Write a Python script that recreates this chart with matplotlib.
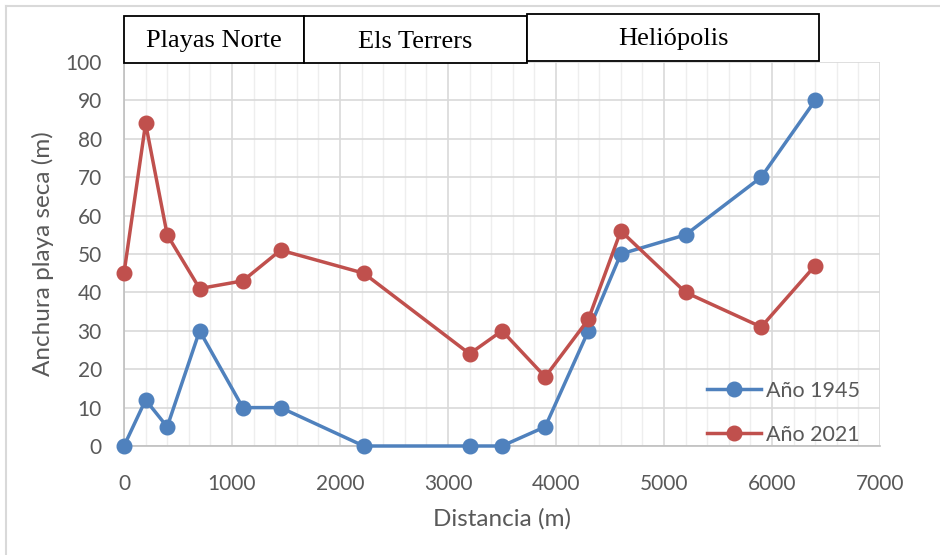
import matplotlib
matplotlib.use("Agg")
import matplotlib.pyplot as plt
from matplotlib.patches import Rectangle
from matplotlib.lines import Line2D
from matplotlib.ticker import MultipleLocator

# Data
distancia = [0, 200, 400, 700, 1100, 1450, 2220, 3200, 3500, 3900, 4300, 4600, 5200, 5900, 6400]
anio_1945 = [0, 12, 5, 30, 10, 10, 0, 0, 0, 5, 30, 50, 55, 70, 90]
anio_2021 = [45, 84, 55, 41, 43, 51, 45, 24, 30, 18, 33, 56, 40, 31, 47]
series_names = ["Año 1945", "Año 2021"]
zonas = ["Playas Norte", "Els Terrers", "Heliópolis"]

W, H = 940, 555
fig = plt.figure(figsize=(W / 100, H / 100), dpi=100)
fig.patch.set_facecolor("white")

def fx(px):
    return px / W

def fy(py):
    return 1 - py / H

# chart area border (left and top visible)
fig.add_artist(Line2D([fx(6), fx(6)], [fy(6), fy(560)], color="#D9D9D9", lw=1.5, transform=fig.transFigure))
fig.add_artist(Line2D([fx(6), fx(945)], [fy(6), fy(6)], color="#D9D9D9", lw=1.5, transform=fig.transFigure))

ax = fig.add_axes([fx(124), fy(446), fx(880 - 124), (446 - 62) / H])
tick_font = "Lato"
gray = "#595959"

blue = "#4F81BD"
red = "#C0504D"
ax.plot(distancia, anio_1945, color=blue, lw=2.5, marker="o", ms=10.5, label=series_names[0], zorder=3, clip_on=False)
ax.plot(distancia, anio_2021, color=red, lw=2.5, marker="o", ms=10.5, label=series_names[1], zorder=3, clip_on=False)

ax.set_xlim(0, 7000)
ax.set_ylim(0, 100)
ax.xaxis.set_major_locator(MultipleLocator(1000))
ax.xaxis.set_minor_locator(MultipleLocator(200))
ax.yaxis.set_major_locator(MultipleLocator(10))
ax.grid(which="major", axis="both", color="#D9D9D9", lw=1.2, zorder=0)
ax.grid(which="minor", axis="x", color="#EEEEEE", lw=1.0, zorder=0)
ax.set_axisbelow(True)
for s in ["top", "right"]:
    ax.spines[s].set_visible(False)
for s in ["left", "bottom"]:
    ax.spines[s].set_color("#BFBFBF")
    ax.spines[s].set_linewidth(1.2)
ax.tick_params(which="both", length=0)
ax.tick_params(axis="x", pad=20)
ax.tick_params(axis="y", pad=16)
for lab in ax.get_xticklabels() + ax.get_yticklabels():
    lab.set_fontfamily(tick_font)
    lab.set_fontsize(15)
    lab.set_color(gray)

ax.set_xlabel("Distancia (m)", fontfamily=tick_font, fontsize=17.5, color=gray, labelpad=10)
ax.set_ylabel("Anchura playa seca (m)", fontfamily=tick_font, fontsize=17.5, color=gray, labelpad=8)

leg = ax.legend(loc="lower right", bbox_to_anchor=(0.99, -0.03), frameon=False,
                prop={"family": tick_font, "size": 15.5}, labelcolor=gray,
                handlelength=2.5, handletextpad=0.2, labelspacing=1.1, borderaxespad=0.2)

# zone boxes above plot
boxes = [(124, 304, 16, 63), (304, 527, 16, 63), (527, 819, 14, 61)]
for name, (x0, x1, y0, y1) in zip(zonas, boxes):
    fig.add_artist(Rectangle((fx(x0), fy(y1)), fx(x1 - x0), (y1 - y0) / H,
                             transform=fig.transFigure, fill=True, facecolor="white",
                             edgecolor="black", lw=1.3, zorder=5))
    fig.text(fx((x0 + x1) / 2), fy((y0 + y1) / 2 + 2), name, ha="center", va="center",
             fontfamily="Liberation Serif", fontsize=19, color="black", zorder=6)

fig.savefig("out.png", dpi=100, facecolor="white")
